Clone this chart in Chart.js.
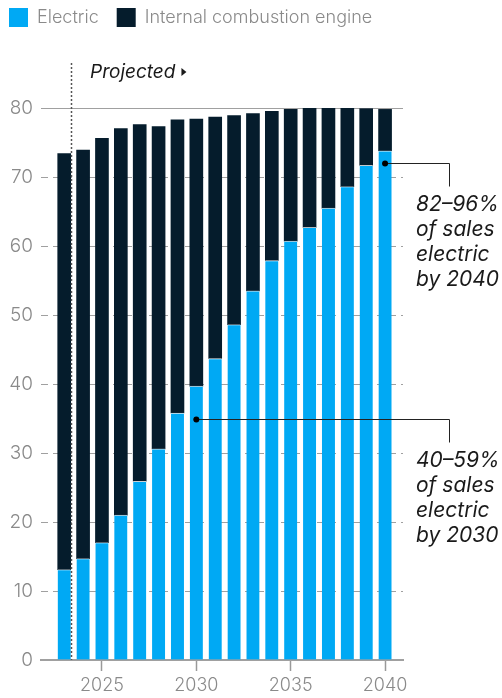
<!DOCTYPE html>
<html>
<head>
<meta charset="utf-8">
<script src="https://cdn.jsdelivr.net/npm/chart.js@4"></script>
<style>
  html, body { margin: 0; padding: 0; background: #fff; }
</style>
</head>
<body>
<canvas id="myChart" width="502" height="698"></canvas>
<script>
// sales, millions of vehicles
const years = [2023, 2024, 2025, 2026, 2027, 2028, 2029, 2030, 2031, 2032, 2033, 2034, 2035, 2036, 2037, 2038, 2039, 2040];
const electric = [13.1, 14.7, 17.0, 21.0, 25.9, 30.6, 35.8, 39.7, 43.7, 48.6, 53.5, 57.9, 60.7, 62.7, 65.5, 68.6, 71.7, 73.8];
const combustion = [60.3, 59.2, 58.6, 56.0, 51.7, 46.7, 42.5, 38.7, 35.0, 30.3, 25.7, 21.6, 19.1, 17.4, 14.6, 11.4, 8.2, 6.0];
const yTicks = [0, 10, 20, 30, 40, 50, 60, 70, 80];
const xTicks = [2025, 2030, 2035, 2040];
const lastActual = 2023;
const callouts = [
    { year: 2030, value: 34.9, lines: ['40\u201359%', 'of sales', 'electric', 'by 2030'] },
    { year: 2040, value: 72.0, lines: ['82\u201396%', 'of sales', 'electric', 'by 2040'] }
];

const blue = '#00a9f4';
const navy = '#051c2c';
const grey = '#8a8a8a';
const font = 'Inter, "Liberation Sans", sans-serif';

const extras = {
    id: 'extras',
    afterDraw(chart) {
        const { ctx, scales: { x, y } } = chart;
        ctx.save();

        // legend
        ctx.font = '300 18px ' + font;
        ctx.textBaseline = 'middle';
        let lx = 9;
        chart.data.datasets.forEach(ds => {
            ctx.fillStyle = ds.backgroundColor;
            ctx.fillRect(lx, 8, 19, 19);
            ctx.fillStyle = grey;
            ctx.fillText(ds.label, lx + 28, 18);
            lx += 28 + ctx.measureText(ds.label).width + 18;
        });

        // projected divider
        const dx = Math.round(x.getPixelForValue(lastActual + 0.35)) + 0.5;
        ctx.strokeStyle = '#555';
        ctx.lineWidth = 1.5;
        ctx.setLineDash([2, 2]);
        ctx.beginPath();
        ctx.moveTo(dx, 63);
        ctx.lineTo(dx, y.getPixelForValue(0));
        ctx.stroke();
        ctx.setLineDash([]);

        ctx.fillStyle = '#1a1a1a';
        ctx.font = 'italic 400 19px ' + font;
        ctx.textAlign = 'left';
        ctx.fillText('Projected', 90, 72);
        const pw = ctx.measureText('Projected').width;
        ctx.beginPath();
        ctx.moveTo(90 + pw + 6, 68);
        ctx.lineTo(90 + pw + 11, 72);
        ctx.lineTo(90 + pw + 6, 76);
        ctx.closePath();
        ctx.fill();

        // callouts
        callouts.forEach(c => {
            const px = x.getPixelForValue(c.year);
            const py = Math.round(y.getPixelForValue(c.value)) + 0.5;
            const ex = 449.5;
            ctx.strokeStyle = '#222';
            ctx.lineWidth = 1;
            ctx.beginPath();
            ctx.moveTo(px, py);
            ctx.lineTo(ex, py);
            ctx.lineTo(ex, py + 23);
            ctx.stroke();
            ctx.fillStyle = '#000';
            ctx.beginPath();
            ctx.arc(px, py, 3, 0, Math.PI * 2);
            ctx.fill();
            ctx.font = 'italic 400 21px ' + font;
            ctx.fillStyle = '#1a1a1a';
            c.lines.forEach((t, i) => {
                ctx.fillText(t, 416, py + 41 + i * 25);
            });
        });
        ctx.restore();
    }
};

const ctxChart = document.getElementById('myChart');
const myChart = new Chart(ctxChart, {
    type: 'bar',
    data: {
        datasets: [{
            label: 'Electric',
            data: years.map((yr, i) => ({ x: yr, y: electric[i] })),
            backgroundColor: blue,
            borderColor: 'rgba(255, 255, 255, 0.6)',
            borderWidth: { top: 1, right: 0, bottom: 0, left: 0 },
            barThickness: 13
        }, {
            label: 'Internal combustion engine',
            data: years.map((yr, i) => ({ x: yr, y: combustion[i] })),
            backgroundColor: navy,
            borderWidth: 0,
            barThickness: 13
        }]
    },
    options: {
        responsive: false,
        animation: false,
        layout: {
            padding: { top: 108, right: 99, left: 0, bottom: 0 }
        },
        scales: {
            x: {
                type: 'linear',
                stacked: true,
                offset: false,
                min: 2021.77,
                max: 2040.95,
                afterBuildTicks: axis => { axis.ticks = xTicks.map(v => ({ value: v })); },
                afterFit: axis => { axis.height = 38; },
                ticks: {
                    callback: v => String(v),
                    color: grey,
                    padding: 4,
                    font: { family: font, size: 18, weight: '300' }
                },
                grid: {
                    offset: false,
                    drawOnChartArea: false,
                    drawTicks: true,
                    tickLength: 11,
                    tickColor: '#999',
                    tickWidth: 1.5
                },
                border: { display: true, color: '#a0a0a0', width: 2 }
            },
            y: {
                stacked: true,
                min: 0,
                max: 80,
                afterBuildTicks: axis => { axis.ticks = yTicks.map(v => ({ value: v })); },
                afterFit: axis => { axis.width = 41; },
                ticks: {
                    color: grey,
                    padding: 8,
                    font: { family: font, size: 19, weight: '300' }
                },
                grid: {
                    drawTicks: false,
                    color: c => (c.tick && c.tick.value === 0) ? 'rgba(0,0,0,0)' : '#a0a0a0',
                    lineWidth: 1
                },
                border: {
                    display: false,
                    dash: c => (c.tick && c.tick.value === 80) ? [] : [7, 5]
                }
            }
        },
        plugins: {
            legend: { display: false },
            tooltip: { enabled: false }
        }
    },
    plugins: [extras]
});
</script>
</body>
</html>
